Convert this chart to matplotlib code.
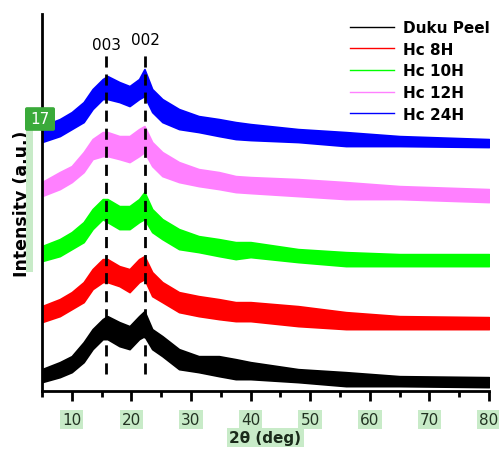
import numpy as np
import matplotlib
matplotlib.use("Agg")
import matplotlib.pyplot as plt
from matplotlib.lines import Line2D
from matplotlib.patches import Rectangle, FancyBboxPatch

two_theta = [5, 8, 10, 12, 13.5, 15.2, 16, 18, 19.7, 21.3, 22.2, 23.5, 25.2,
             28, 31.3, 34.7, 37.5, 40, 48, 56, 65, 80]

# upper / lower edge of each noisy trace (offset stacked, arbitrary units)
duku_hi = [22, 29, 35, 49, 62, 72, 75, 69, 65, 75, 80, 62, 55, 42, 35, 35, 32, 29, 22, 19, 15, 14]
duku_lo = [9, 14, 19, 29, 42, 52, 52, 45, 42, 52, 55, 42, 35, 22, 19, 15, 12, 12, 9, 5, 5, 4]
hc8_hi = [85, 92, 99, 109, 122, 132, 132, 125, 122, 132, 135, 119, 109, 99, 95, 92, 89, 89, 85, 79, 75, 74]
hc8_lo = [69, 75, 82, 89, 102, 109, 109, 105, 99, 109, 112, 95, 89, 79, 75, 72, 70, 70, 65, 62, 62, 62]
hc10_hi = [145, 152, 159, 169, 182, 192, 192, 185, 185, 192, 199, 182, 172, 162, 155, 152, 149, 149, 142, 139, 137, 137]
hc10_lo = [130, 135, 142, 149, 162, 172, 169, 162, 162, 169, 172, 159, 152, 142, 139, 135, 132, 134, 129, 125, 125, 125]
hc12_hi = [209, 219, 225, 239, 252, 259, 259, 255, 255, 262, 265, 249, 239, 229, 222, 219, 215, 214, 212, 209, 205, 202]
hc12_lo = [195, 202, 209, 219, 232, 235, 235, 232, 229, 235, 239, 225, 215, 209, 205, 202, 199, 198, 195, 192, 192, 189]
hc24_hi = [265, 272, 279, 289, 302, 312, 315, 309, 305, 312, 322, 302, 292, 282, 275, 272, 269, 267, 262, 259, 255, 252]
hc24_lo = [249, 255, 262, 269, 282, 292, 292, 289, 285, 292, 295, 279, 269, 262, 259, 255, 252, 251, 249, 245, 245, 244]

labels = ["Duku Peel", "Hc 8H", "Hc 10H", "Hc 12H", "Hc 24H"]
colors = ["black", "red", "#00ff00", "#ff80ff", "blue"]

peak_pos = [15.8, 22.3]
peak_names = ["003", "002"]

xticks = [10, 20, 30, 40, 50, 60, 70, 80]

hl = "#c8ebc8"  # light green highlight behind labels

fig = plt.figure(figsize=(4.99, 4.56), dpi=100)
ax = fig.add_axes([0.084, 0.140, 0.896, 0.827])

bands = [(duku_lo, duku_hi), (hc8_lo, hc8_hi), (hc10_lo, hc10_hi),
         (hc12_lo, hc12_hi), (hc24_lo, hc24_hi)]
for (lo, hi), c in zip(bands, colors):
    ax.fill_between(two_theta, lo, hi, color=c, linewidth=1.2, edgecolor=c)

# reflections
for xp in peak_pos:
    ax.plot([xp, xp], [17, 337], color="black", lw=2, ls=(0, (4, 2.5)))
for xp, name, yy in zip(peak_pos, peak_names, [347, 352]):
    ax.text(xp, yy, name, ha="center", va="center", fontsize=11)

ax.set_xlim(5, 80)
ax.set_ylim(0, 377)
ax.set_xticks(xticks)
ax.set_xticks(np.arange(5, 81, 10), minor=True)
ax.set_yticks([])
for s in ["top", "right"]:
    ax.spines[s].set_visible(False)
ax.spines["left"].set_linewidth(2)
ax.spines["bottom"].set_linewidth(2)
ax.tick_params(axis="x", which="major", direction="out", length=7, width=2,
               labelsize=11, labelcolor="#223322", pad=8)
ax.tick_params(axis="x", which="minor", direction="out", length=4, width=2)
for t in ax.get_xticklabels():
    t.set_bbox(dict(facecolor=hl, edgecolor="none", pad=1.5))

ax.set_xlabel("2θ (deg)", fontsize=11, fontweight="bold", color="#1a2a1a",
              labelpad=2, bbox=dict(facecolor=hl, edgecolor="none", pad=1.5))
ax.set_ylabel("Intensity (a.u.)", fontsize=12.5, fontweight="bold", labelpad=8)

# highlight strip next to the y label and the "17" badge
fig.patches.append(Rectangle((26 / 499, 1 - 273 / 456), 7 / 499, 145 / 456,
                             transform=fig.transFigure, facecolor=hl,
                             edgecolor="none", zorder=0))
fig.patches.append(FancyBboxPatch((27 / 499, 1 - 130 / 456), 26 / 499, 20 / 456,
                                  boxstyle="round,pad=0.004",
                                  transform=fig.transFigure,
                                  facecolor="#3aaa3a", edgecolor="none", zorder=3))
fig.text(40 / 499, 1 - 119 / 456, "17", color="white", fontsize=11,
         ha="center", va="center", zorder=4)

handles = [Line2D([], [], color=c, lw=1) for c in colors]
leg = ax.legend(handles, labels, loc="upper right", frameon=False,
                prop={"weight": "bold", "size": 11}, handlelength=2.9,
                labelspacing=0.43, handletextpad=0.6,
                bbox_to_anchor=(1.033, 1.02))

fig.savefig("out.png", dpi=100)
